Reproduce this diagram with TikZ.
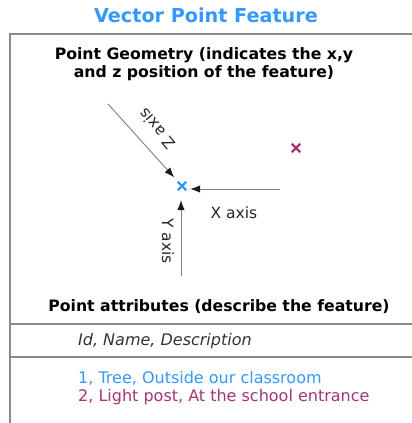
\documentclass[tikz,border=0pt]{standalone}
\usepackage{fontspec}
\setmainfont{DejaVu Sans}
\usetikzlibrary{arrows.meta,shapes.misc}
\definecolor{titleblue}{HTML}{3399FF}
\definecolor{ptblue}{HTML}{3399FF}
\definecolor{ptmagenta}{HTML}{A33673}
\definecolor{frame}{HTML}{8A8A8A}
\definecolor{axisgray}{HTML}{808080}
\tikzset{
  px/.style={x=1pt,y=-1pt},
  heading/.style={font=\bfseries\fontsize{15.7}{18}\selectfont, text=black, inner sep=0pt},
  title/.style={font=\bfseries\fontsize{19.2}{22}\selectfont, text=titleblue, inner sep=0pt},
  body/.style={font=\fontsize{16}{19}\selectfont, inner sep=0pt, anchor=west},
  axislabel/.style={font=\fontsize{15.5}{18}\selectfont, text=black!85, inner sep=0pt},
  axisarrow/.style={draw=axisgray, line width=0.9pt, -{Latex[length=10pt,width=7.5pt,color=black!90]}},
  xmark/.style={cross out, draw=#1, line width=2.4pt, minimum size=6pt, inner sep=0pt},
  rule/.style={draw=frame, line width=1.4pt},
}
\begin{document}
\begin{tikzpicture}[px]
  \useasboundingbox (0,0) rectangle (412,423);
  \fill[white] (0,0) rectangle (412,423);

  % title above the frame
  \node[title] (title) at (206,15) {Vector Point Feature};

  % open frame: top and left edges, plus two divider rules
  \draw[rule] (10,423) -- (10,34) -- (412,34);
  \draw[rule] (10,324) -- (412,324);
  \draw[rule] (10,357) -- (412,357);

  % geometry section
  \node[heading, align=center] (geom) at (204,64)
    {Point Geometry (indicates the x,y\\and z position of the feature)};

  % the two point features
  \node[xmark=ptblue] (p1) at (182,186) {};
  \node[xmark=ptmagenta] (p2) at (296,148) {};

  % axes converging on the first point
  \coordinate (zstart) at (108,104);
  \coordinate (xstart) at (280,189);
  \coordinate (ystart) at (181,276);
  \draw[axisarrow, shorten >=6pt] (zstart) -- (p1);
  \draw[axisarrow, shorten >=4pt] (xstart) -- (p1.east |- xstart);
  \draw[axisarrow, shorten >=10pt] (ystart) -- (p1.south -| ystart);

  \node[axislabel, rotate=130] (zlab) at (157,129) {Z axis};
  \node[axislabel] (xlab) at (234,213) {X axis};
  \node[axislabel, rotate=-90] (ylab) at (168,241) {Y axis};

  % attribute table
  \node[heading] (attr) at (219,307) {Point attributes (describe the feature)};
  \node[body, font=\itshape\fontsize{16}{19}\selectfont, text=black!80] (fields) at (78,341) {Id, Name, Description};
  \node[body, text=ptblue] (row1) at (78,378) {1, Tree, Outside our classroom};
  \node[body, text=ptmagenta] (row2) at (78,397) {2, Light post, At the school entrance};
\end{tikzpicture}
\end{document}
